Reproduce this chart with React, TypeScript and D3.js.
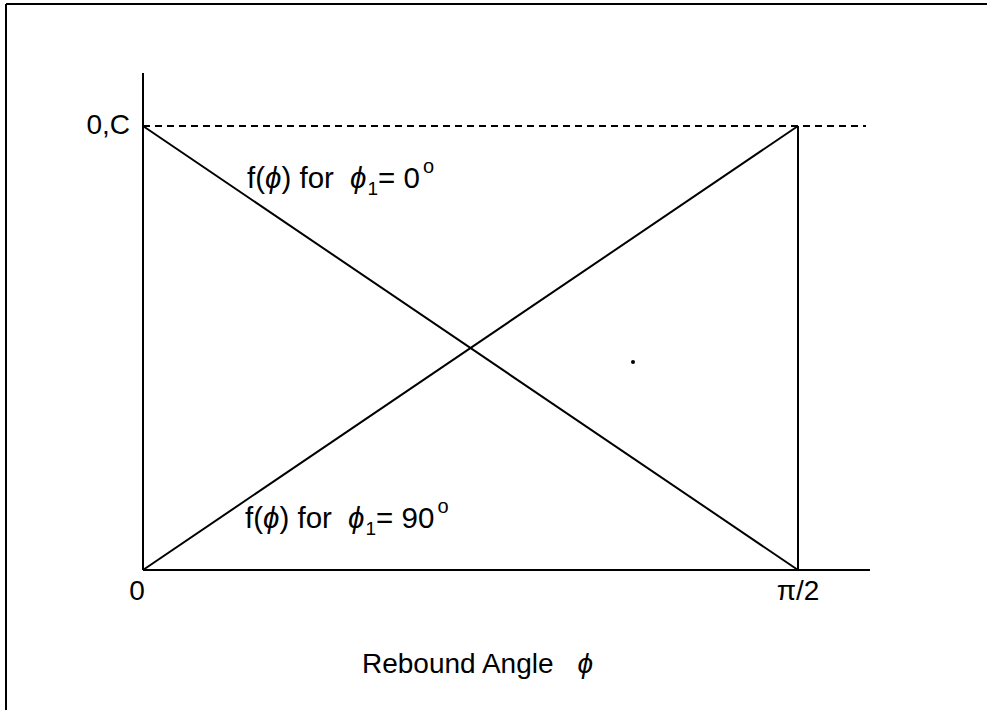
import React from "react";
import * as d3 from "d3";

const xDomain = [0, Math.PI / 2];
const yDomain = [0, 1];
// f(phi) for phi1 = 0 deg (decreasing) and phi1 = 90 deg (increasing)
const phiValues = [0, Math.PI / 2];
const seriesPhi0 = [1, 0];
const seriesPhi90 = [0, 1];
const xTickLabels = ["0", "π/2"];
const yTickLabel = "0,C";

export default function App() {
  const W = 987;
  const H = 710;
  const x = d3.scaleLinear().domain(xDomain).range([143, 798]);
  const y = d3.scaleLinear().domain(yDomain).range([570, 126]);
  const line = d3
    .line<[number, number]>()
    .x((d) => x(d[0]))
    .y((d) => y(d[1]));
  const d0 = line(phiValues.map((p, i) => [p, seriesPhi0[i]]) as [number, number][]) || "";
  const d90 = line(phiValues.map((p, i) => [p, seriesPhi90[i]]) as [number, number][]) || "";
  const font = "'Liberation Sans', Arial, Helvetica, sans-serif";
  const fs = 28;
  const phi = "ϕ";

  const label = (lx: number, ly: number, deg: string) => (
    <text x={lx} y={ly} fontFamily={font} fontSize={29.5} fill="#000">
      <tspan>f(</tspan>
      <tspan fontStyle="italic">{phi}</tspan>
      <tspan>) for </tspan>
      <tspan dx={8} fontStyle="italic">{phi}</tspan>
      <tspan dx={1} dy={7} fontSize={19}>1</tspan>
      <tspan dy={-7}>= {deg}</tspan>
      <tspan dx={3} dy={-15} fontSize={20}>o</tspan>
    </text>
  );

  return (
    <svg
      width={W}
      height={H}
      style={{ position: "absolute", left: 0, top: 0, background: "#fff" }}
    >
      <rect x={0} y={0} width={W} height={H} fill="#fff" />
      {/* frame */}
      <line x1={6} y1={4} x2={W} y2={4} stroke="#000" strokeWidth={2} />
      <line x1={6} y1={4} x2={6} y2={H} stroke="#000" strokeWidth={2} />

      {/* axes */}
      <line x1={x(0)} y1={73} x2={x(0)} y2={y(0)} stroke="#000" strokeWidth={2} />
      <line x1={x(0)} y1={y(0)} x2={870} y2={y(0)} stroke="#000" strokeWidth={2} />

      {/* dashed level C */}
      <line
        x1={x(0)}
        y1={y(1)}
        x2={866}
        y2={y(1)}
        stroke="#000"
        strokeWidth={2}
        strokeDasharray="7,5"
      />
      {/* vertical at pi/2 */}
      <line x1={x(Math.PI / 2)} y1={y(1)} x2={x(Math.PI / 2)} y2={y(0)} stroke="#000" strokeWidth={2} />

      <path d={d0} fill="none" stroke="#000" strokeWidth={2} />
      <path d={d90} fill="none" stroke="#000" strokeWidth={2} />

      {/* tick labels */}
      <text x={x(0) - 13} y={y(1) + 8} textAnchor="end" fontFamily={font} fontSize={fs}>
        {yTickLabel}
      </text>
      <text x={x(0) - 6} y={600} textAnchor="middle" fontFamily={font} fontSize={fs}>
        {xTickLabels[0]}
      </text>
      <text x={x(Math.PI / 2)} y={600} textAnchor="middle" fontFamily={font} fontSize={fs}>
        {xTickLabels[1]}
      </text>

      {label(247, 188, "0")}
      {label(245, 528, "90")}

      {/* axis title */}
      <text x={362} y={673} fontFamily={font} fontSize={fs}>
        Rebound Angle
        <tspan dx={24} fontStyle="italic">{phi}</tspan>
      </text>

      <circle cx={633} cy={362} r={2} fill="#000" />
    </svg>
  );
}
